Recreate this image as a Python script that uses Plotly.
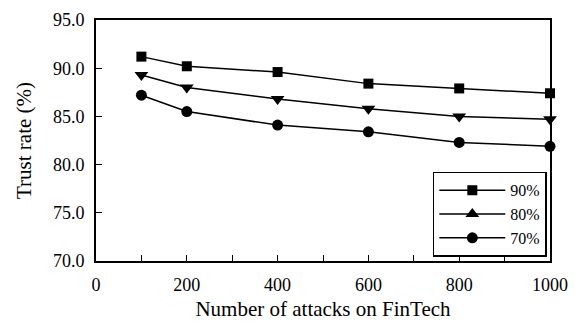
import plotly.graph_objects as go

# Trust rate versus number of attacks, for three honest-node ratios
attacks = [100, 200, 400, 600, 800, 1000]
trust_90 = [91.2, 90.2, 89.6, 88.4, 87.9, 87.4]
trust_80 = [89.3, 88.0, 86.8, 85.8, 85.0, 84.7]
trust_70 = [87.2, 85.5, 84.1, 83.4, 82.3, 81.9]
series_names = ["90%", "80%", "70%"]

FONT = "Liberation Serif"
line_style = dict(color="black", width=1.5)

fig = go.Figure()
fig.add_trace(go.Scatter(
    x=attacks, y=trust_90, name=series_names[0], mode="lines+markers",
    line=line_style, marker=dict(symbol="square", size=10, color="black"),
    cliponaxis=False,
))
# 80% series: plotted with down-pointing triangles, listed in the key with an up triangle
fig.add_trace(go.Scatter(
    x=attacks, y=trust_80, name=series_names[1], mode="lines+markers",
    line=line_style, marker=dict(symbol="triangle-down", size=12, color="black"),
    cliponaxis=False, showlegend=False, legendgroup="g80",
))
fig.add_trace(go.Scatter(
    x=[None], y=[None], name=series_names[1], mode="lines+markers",
    line=line_style, marker=dict(symbol="triangle-up", size=12, color="black"),
    legendgroup="g80",
))
fig.add_trace(go.Scatter(
    x=attacks, y=trust_70, name=series_names[2], mode="lines+markers",
    line=line_style, marker=dict(symbol="circle", size=11, color="black"),
    cliponaxis=False,
))

fig.update_layout(
    width=575, height=324,
    margin=dict(l=96, r=25, t=20, b=63),
    paper_bgcolor="white", plot_bgcolor="white",
    font=dict(family=FONT, size=18, color="black"),
    showlegend=True,
    legend=dict(
        x=0.993, y=0.37, xanchor="right", yanchor="top",
        bgcolor="white", bordercolor="black", borderwidth=1.5,
        font=dict(family=FONT, size=16, color="black"),
        tracegroupgap=0, itemwidth=66,
    ),
    xaxis=dict(
        range=[0, 1000], dtick=200, tick0=0,
        ticks="inside", ticklen=6, tickwidth=1, tickcolor="black",
        minor=dict(dtick=100, ticks="inside", ticklen=6, tickwidth=1, tickcolor="black"),
        showline=True, linecolor="black", linewidth=2, mirror=True,
        showgrid=False, zeroline=False, automargin=False,
        tickfont=dict(family=FONT, size=18),
        ticklabelstandoff=6,
        title=dict(text="Number of attacks on FinTech", font=dict(family=FONT, size=21), standoff=8),
    ),
    yaxis=dict(
        range=[70, 95], dtick=5, tick0=70, tickformat=".1f",
        ticks="inside", ticklen=6, tickwidth=1, tickcolor="black",
        showline=True, linecolor="black", linewidth=2, mirror=True,
        showgrid=False, zeroline=False, automargin=False,
        tickfont=dict(family=FONT, size=18),
        ticklabelstandoff=6,
        title=dict(text="Trust rate (%)", font=dict(family=FONT, size=21), standoff=16),
    ),
)

fig.write_html("out.html")
